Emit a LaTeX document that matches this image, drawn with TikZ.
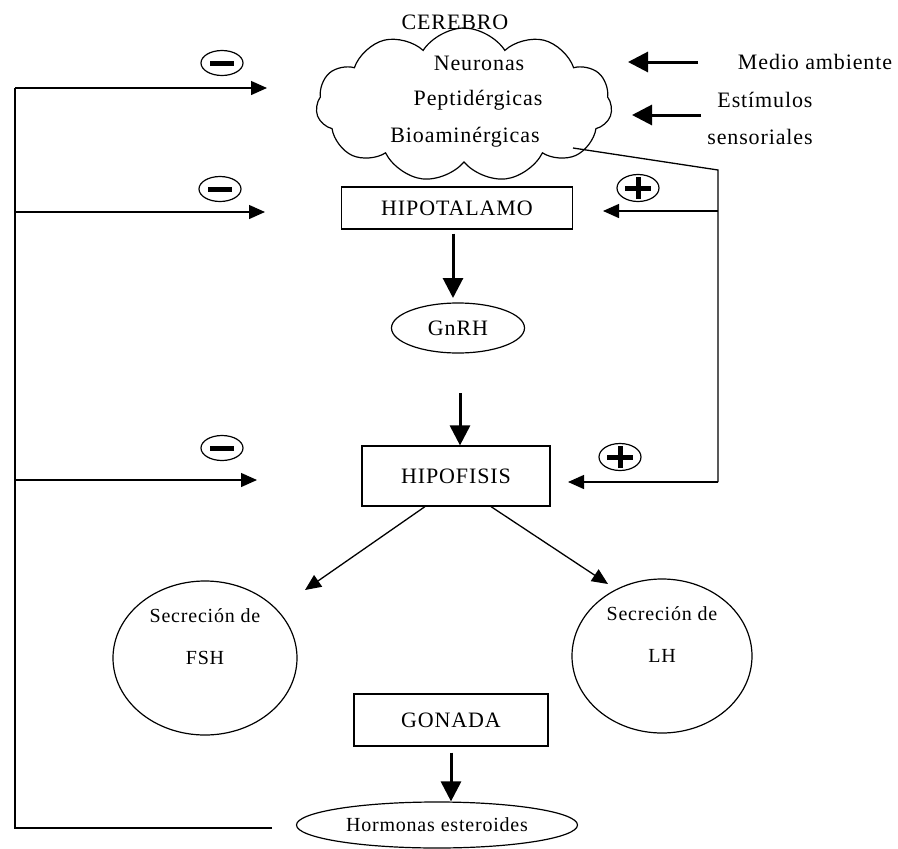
\documentclass[tikz,border=0pt]{standalone}
\usepackage{fontspec}
\setmainfont{Liberation Serif}[LetterSpace=4]
\usetikzlibrary{shapes.geometric,shapes.symbols,arrows.meta}
\begin{document}
\begin{tikzpicture}[x=1pt,y=-1pt,
  font=\fontsize{22}{26}\selectfont,
  box/.style={draw,line width=1.2pt,inner sep=0pt},
  oval/.style={draw,ellipse,line width=1.2pt,inner sep=0pt},
  txt/.style={inner sep=0pt},
  fb/.style={line width=1.3pt,-{Triangle[length=16pt,width=14pt]}},
  plain/.style={line width=1.3pt},
  big/.style={line width=3pt,-{Triangle[length=20pt,width=20pt]}},
  sign/.style={draw,ellipse,line width=1.2pt,minimum width=42pt,minimum height=25pt,inner sep=0pt},
  bar/.style={line width=5pt}
]
\useasboundingbox (0,0) rectangle (898,849);

% brain cloud
\node[draw,cloud,cloud puffs=11,cloud puff arc=115,aspect=1.96,line width=1.2pt,
      minimum width=296pt,minimum height=154pt,inner sep=0pt] (brain) at (464,105) {};
\node[txt] (cer) at (455,22) {CEREBRO};
\node[txt] (neu) at (479,63) {Neuronas};
\node[txt] (pep) at (478,100) {Peptidérgicas};
\node[txt] (bio) at (465,137) {Bioaminérgicas};

% external inputs
\node[txt] (medio) at (815,62) {Medio ambiente};
\node[txt] (esti) at (765,100) {Estímulos};
\node[txt] (sens) at (760,137) {sensoriales};
\coordinate (m0) at (698,62);  \coordinate (m1) at (628,62);
\coordinate (e0) at (701,115); \coordinate (e1) at (632,115);
\draw[big] (m0) -- (m1);
\draw[big] (e0) -- (e1);

% main chain
\node[box,minimum width=231pt,minimum height=42pt] (hipo) at (457,208) {HIPOTALAMO};
\node[oval,minimum width=133pt,minimum height=50pt] (gnrh) at (458,328) {GnRH};
\node[box,minimum width=188pt,minimum height=60pt] (hipof) at (456,476) {HIPOFISIS};
\node[oval,minimum width=184pt,minimum height=154pt] (fsh) at (205,658) {};
\node[txt,align=center,font=\fontsize{20}{42}\selectfont] (fsht) at ([yshift=21pt]fsh.center) {Secreción de\\FSH};
\node[oval,minimum width=180pt,minimum height=154pt] (lh) at (662,656) {};
\node[txt,align=center,font=\fontsize{20}{42}\selectfont] (lht) at ([yshift=21pt]lh.center) {Secreción de\\LH};
\node[box,minimum width=194pt,minimum height=52pt] (gon) at (451,720) {GONADA};
\node[oval,minimum width=281pt,minimum height=46pt,font=\fontsize{20}{24}\selectfont] (horm) at (437,825) {Hormonas esteroides};

\coordinate (g0) at (460,393);
\coordinate (fshtip) at (305,590);
\coordinate (lhtip) at (608,584);
\draw[big] (hipo.south -| 453,0) ++(0,4) -- (453,298);
\draw[big] (g0) -- (hipof.north -| 460,0);
\draw[fb] (hipof.south -| 425,0) -- (fshtip);
\draw[fb] (hipof.south -| 491,0) -- (lhtip);
\draw[big] ([yshift=-6pt]gon.south -| 451,0) -- (horm.north -| 451,0);

% right positive feedback
\coordinate (c0) at (573,148);
\coordinate (c1) at (718,170);
\coordinate (c2) at (718,482);
\coordinate (cj) at (718,211);
\coordinate (t1) at (603,211);
\coordinate (t2) at (568,482);
\draw[plain] (c0) -- (c1) -- (c2);
\draw[fb] (c2) -- (t2);
\draw[fb] (cj) -- (t1);

% left negative feedback
\coordinate (l0) at (272,828);
\coordinate (l1) at (15,828);
\coordinate (l2) at (15,88);
\coordinate (l3) at (267,88);
\coordinate (lj1) at (15,212);
\coordinate (lt1) at (265,212);
\coordinate (lj2) at (15,480);
\coordinate (lt2) at (257,480);
\draw[plain] (l0) -- (l1) -- (l2);
\draw[fb] (l2) -- (l3);
\draw[fb] (lj1) -- (lt1);
\draw[fb] (lj2) -- (lt2);

% signs
\node[sign] (s1) at (222,63) {};
\node[sign] (s2) at (220,189) {};
\node[sign] (s3) at (222,448) {};
\node[sign,minimum height=27pt] (p1) at (638,188) {};
\node[sign,minimum height=27pt] (p2) at (620,457) {};
\foreach \s in {s1,s2,s3}{\draw[bar] ([xshift=-12pt]\s.center) -- ([xshift=12pt]\s.center);}
\foreach \s in {p1,p2}{
  \draw[bar] ([xshift=-13pt]\s.center) -- ([xshift=13pt]\s.center);
  \draw[bar] ([yshift=-11pt]\s.center) -- ([yshift=11pt]\s.center);}
\end{tikzpicture}
\end{document}
